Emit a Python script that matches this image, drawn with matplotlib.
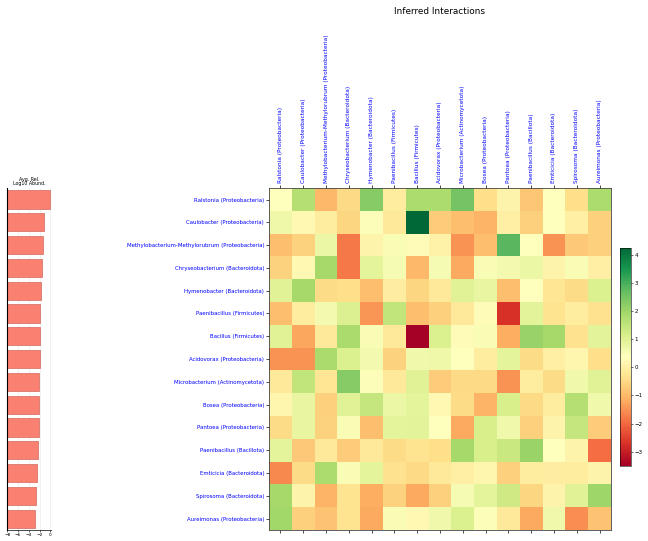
import numpy as np
import matplotlib
matplotlib.use("Agg")
import matplotlib.pyplot as plt

taxa = [
    "Ralstonia (Proteobacteria)",
    "Caulobacter (Proteobacteria)",
    "Methylobacterium-Methylorubrum (Proteobacteria)",
    "Chryseobacterium (Bacteroidota)",
    "Hymenobacter (Bacteroidota)",
    "Paenibacillus (Firmicutes)",
    "Bacillus (Firmicutes)",
    "Acidovorax (Proteobacteria)",
    "Microbacterium (Actinomycetota)",
    "Bosea (Proteobacteria)",
    "Pantoea (Proteobacteria)",
    "Paenibacillus (Bacillota)",
    "Emticicia (Bacteroidota)",
    "Spirosoma (Bacteroidota)",
    "Aureimonas (Proteobacteria)",
]

# mean relative abundance, log10
avg_log_abund = [-0.12, -1.10, -1.33, -1.50, -1.76, -1.88, -1.94, -1.94,
                 -2.06, -2.12, -2.18, -2.30, -2.48, -2.60, -2.80]

# interaction strengths, row i -> column j
interactions = np.array([
    [0.40, 1.70, -1.00, -0.50, 2.30, -0.10, 1.80, 1.80, 2.50, -0.40, 0.10, -0.80, 0.40, -0.40, 1.80],
    [0.70, 0.20, -0.10, -0.55, 0.45, -0.20, 4.25, -0.70, -0.90, -1.05, 0.00, -0.65, 0.40, 0.00, -0.65],
    [-0.90, -0.60, 0.75, -1.80, 0.10, 0.50, 0.30, 0.05, -1.50, -0.90, 2.80, 0.40, -1.50, -0.75, -0.65],
    [-0.60, 0.20, 1.90, -1.80, 0.90, 0.55, -1.00, 0.55, -1.20, 0.50, 0.60, 0.75, 0.10, 0.50, 0.00],
    [1.00, 1.90, -0.45, -0.40, -0.90, -0.05, -0.55, -0.20, 1.00, 0.80, -0.90, 0.40, -0.25, -0.45, 1.10],
    [-0.90, -0.10, 0.60, 1.05, -1.45, 1.50, -0.90, -0.65, -0.20, 0.30, -2.70, 0.95, -0.30, -0.10, -0.35],
    [1.00, -1.25, -0.20, 1.85, 0.50, -0.20, -3.50, 1.10, 0.30, 0.50, -1.15, 2.10, 1.90, -0.35, 0.95],
    [-1.50, -1.50, 1.85, 1.10, 0.60, -0.60, 0.65, 0.70, 0.40, -0.10, 0.90, -0.45, 0.00, 0.15, -0.40],
    [-0.15, 1.50, -0.25, 2.30, 0.45, -0.15, 1.00, -0.70, -0.50, -0.50, -1.50, -0.10, -0.45, 0.65, 1.00],
    [0.15, 0.80, -0.65, 1.00, 1.45, 0.75, 0.90, 0.20, -0.45, -1.05, 1.15, -0.50, -0.10, 1.70, 0.65],
    [-0.45, 0.80, -0.60, 0.50, -0.90, 0.90, 0.95, 0.35, -1.20, 1.15, 0.65, -0.65, 0.10, 1.45, -0.70],
    [0.90, -0.75, -0.20, -0.70, -0.15, -0.45, -0.30, -0.40, 1.90, 1.15, 1.40, 2.05, 0.35, 0.10, -1.95],
    [-1.60, -0.45, 1.80, 0.50, 0.90, -0.35, -0.50, -0.15, 0.00, 0.15, -0.65, -0.10, -0.05, -0.10, 0.10],
    [1.90, 0.10, -1.05, -0.30, -1.15, -0.60, -1.20, -0.65, 0.55, 0.90, 1.30, -0.55, 0.10, 1.00, 2.00],
    [1.95, -0.65, -0.85, -0.30, -1.20, 0.50, 0.20, 0.65, 1.10, 0.45, -0.20, -1.20, 0.65, -1.55, -0.85],
])

fig = plt.figure(figsize=(6.48, 5.41), dpi=100)

# left panel: abundance bars
ax_bar = fig.add_axes([0.0113, 0.0203, 0.068, 0.632])
ypos = np.arange(len(taxa))
floor = -8
ax_bar.barh(ypos, np.array(avg_log_abund) - floor, left=floor, height=0.8,
            color="salmon", edgecolor="#d0685c", linewidth=0.5)
ax_bar.set_xlim(floor, 0.2)
ax_bar.set_ylim(len(taxa) - 0.5, -0.5)
ax_bar.set_xticks([-8, -6, -4, -2, 0])
ax_bar.set_yticks([])
ax_bar.tick_params(axis="x", labelsize=3.2, length=1.5, width=0.4, pad=1)
ax_bar.grid(axis="x", linewidth=0.4, alpha=0.3)
ax_bar.set_axisbelow(True)
for side in ["top", "right"]:
    ax_bar.spines[side].set_visible(False)
ax_bar.spines["left"].set_linewidth(0.8)
ax_bar.spines["bottom"].set_linewidth(0.5)
ax_bar.set_title("Avg. Rel.\nLog10 Abund.", fontsize=3.4, pad=2, linespacing=0.95)

# right panel: interaction matrix
ax_hm = fig.add_axes([0.4151, 0.0203, 0.5278, 0.632])
im = ax_hm.imshow(interactions, cmap="RdYlGn", aspect="equal",
                  vmin=interactions.min(), vmax=interactions.max())
ax_hm.set_xticks(ypos)
ax_hm.set_yticks(ypos)
ax_hm.set_xticklabels(taxa, rotation=90, fontsize=4.15, color="blue")
ax_hm.set_yticklabels(taxa, fontsize=3.9, color="blue")
ax_hm.tick_params(axis="x", top=True, labeltop=True, bottom=True, labelbottom=False,
                  length=2, width=0.5, pad=1.5)
ax_hm.tick_params(axis="y", length=2, width=0.5, pad=1.5)
for sp in ax_hm.spines.values():
    sp.set_linewidth(0.6)
    sp.set_color("#444444")

fig.text(0.679, 0.978, "Inferred Interactions", ha="center", va="center", fontsize=6.4)

cax = fig.add_axes([0.957, 0.139, 0.017, 0.403])
cb = fig.colorbar(im, cax=cax)
cb.set_ticks([-3, -2, -1, 0, 1, 2, 3, 4])
cb.ax.tick_params(labelsize=4, length=1.5, width=0.4, pad=1)
cb.outline.set_linewidth(0.4)

fig.savefig("out.png", dpi=100)
